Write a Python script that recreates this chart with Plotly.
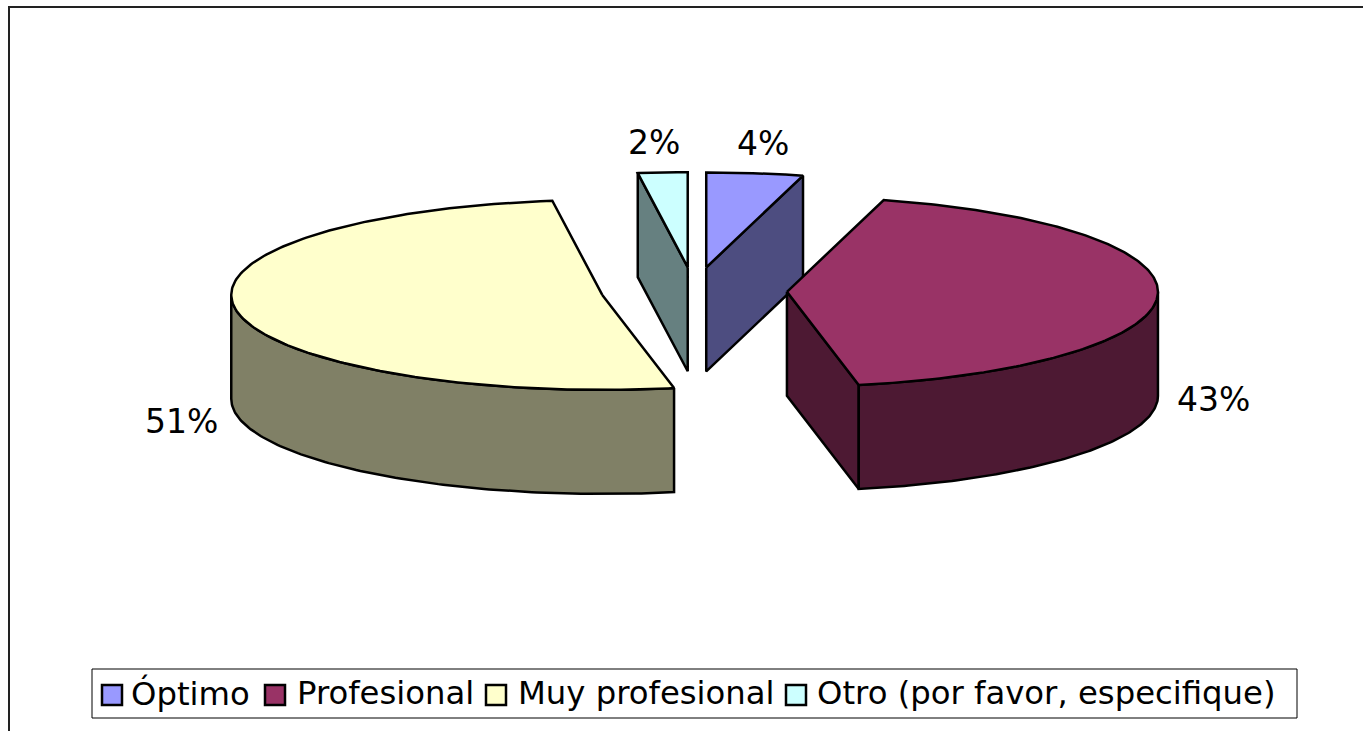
#!/usr/bin/env python3
# Exploded 3D pie, drawn as filled scatter polygons since plotly has no 3D pie

import numpy as np
import plotly.graph_objects as go

# Data
categories = ["Óptimo", "Profesional", "Muy profesional", "Otro (por favor, especifique)"]
percent_values = [4.2, 42.7, 50.95, 2.15]

# Styles
top_colors = ["#9999ff", "#993366", "#ffffcc", "#ccffff"]
side_colors = ["#4d4d80", "#4d1933", "#808066", "#668080"]
draw_order = [3, 0, 2, 1]
font_family = "Verdana, 'DejaVu Sans', sans-serif"
font_size = 33
legend_font_size = 32.3

# Pie geometry, in page pixels
center_x = 694
center_y = 291
radius_x = 371
radius_y = 95
depth = 104
explode = 93
line_width = 2.5

# Label and legend placement, in page pixels
label_pos = [(763, 143), (1213, 399), (181, 421), (654, 142)]
swatch_x = [112, 275, 496, 796]
text_x = [129, 295, 516, 815]
legend_y = 695
legend_box = (92, 669, 1297, 718)


def rim(ax, ay, theta):
  return ax + radius_x * np.sin(theta), ay - radius_y * np.cos(theta)


def add_poly(fig, xs, ys, color, name):
  fig.add_trace(go.Scatter(x=list(xs), y=list(ys), mode="lines", fill="toself", fillcolor=color,
                           line=dict(color="black", width=line_width), name=name, hoverinfo="name",
                           showlegend=False))


fig = go.Figure()

# Slice angles come from the values, clockwise from 12 o'clock
bounds = np.radians(np.cumsum([0] + percent_values) * 3.6)

for i in draw_order:
  t0, t1 = bounds[i], bounds[i + 1]
  mid = (t0 + t1) / 2
  ax = center_x + explode * np.sin(mid)
  ay = center_y - explode * radius_y / radius_x * np.cos(mid)
  name = categories[i]

  # Radial walls that face the viewer
  for t, visible in ((t0, np.sin(t0) < -1e-6), (t1, np.sin(t1) > 1e-6)):
    if visible:
      rx, ry = rim(ax, ay, t)
      add_poly(fig, [ax, rx, rx, ax, ax], [ay, ry, ry + depth, ay + depth, ay], side_colors[i], name)

  # Outer wall, only the front half of the ellipse shows
  w0, w1 = max(t0, np.pi / 2), min(t1, 3 * np.pi / 2)
  if w1 > w0:
    t = np.linspace(w0, w1, 120)
    wx, wy = rim(ax, ay, t)
    add_poly(fig, np.r_[wx, wx[::-1], wx[0]], np.r_[wy, wy[::-1] + depth, wy[0]], side_colors[i], name)

  # Top face
  t = np.linspace(t0, t1, 200)
  tx, ty = rim(ax, ay, t)
  add_poly(fig, np.r_[ax, tx, ax], np.r_[ay, ty, ay], top_colors[i], name)

# Legend swatches
for i, name in enumerate(categories):
  fig.add_trace(go.Scatter(x=[swatch_x[i]], y=[legend_y], mode="markers", name=name, hoverinfo="name",
                           showlegend=False,
                           marker=dict(symbol="square", size=20, color=top_colors[i],
                                       line=dict(color="black", width=2.5))))

# Percent labels
for i, value in enumerate(percent_values):
  fig.add_annotation(x=label_pos[i][0], y=label_pos[i][1], text="{}%".format(round(value)), showarrow=False,
                     font=dict(family=font_family, size=font_size, color="black"))

# Legend text
for i, name in enumerate(categories):
  fig.add_annotation(x=text_x[i], y=legend_y - 2, text=name, showarrow=False, xanchor="left",
                     font=dict(family=font_family, size=legend_font_size, color="black"))

# Legend box and the chart frame, which runs off the page on the right and bottom
fig.add_shape(type="rect", x0=legend_box[0], y0=legend_box[1], x1=legend_box[2], y1=legend_box[3],
              line=dict(color="black", width=1), layer="below")
fig.add_shape(type="line", x0=9, y0=731, x1=9, y1=7, line=dict(color="#222222", width=2))
fig.add_shape(type="line", x0=8, y0=7, x1=1363, y1=7, line=dict(color="#222222", width=2))

fig.update_layout(width=1363, height=731, margin=dict(l=0, r=0, t=0, b=0), paper_bgcolor="white",
                  plot_bgcolor="white", showlegend=False,
                  xaxis=dict(range=[0, 1363], visible=False, fixedrange=True),
                  yaxis=dict(range=[731, 0], visible=False, fixedrange=True))

fig.write_html("out.html", config=dict(displayModeBar=False),
               post_script="document.body.style.margin='0';document.body.style.overflow='hidden';")
